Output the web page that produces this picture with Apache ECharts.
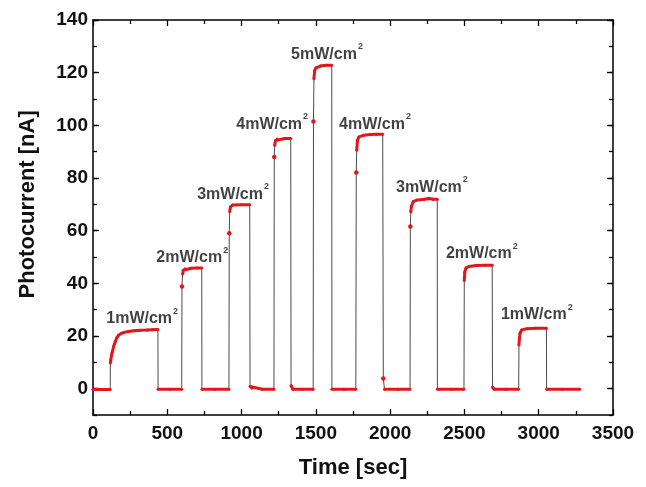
<!DOCTYPE html>
<html><head><meta charset="utf-8">
<script src="https://cdn.jsdelivr.net/npm/echarts@6/dist/echarts.min.js"></script>
<style>html,body{margin:0;padding:0;background:#fff}#c{width:646px;height:487px}</style>
</head><body><div id="c"></div>
<script>
// [time (sec), photocurrent (nA)]
const photocurrentTrace = [
  [0,-0.3],[40,-0.3],[80,-0.3],[116,-0.3],
  [117,9.7],[120,11.0],[124,12.5],[128,13.5],[139,16.0],[150,17.9],[161,19.4],[172,20.3],[190,21.0],[206,21.3],[240,21.7],[273,22.0],[320,22.2],[363,22.3],[400,22.4],[437,22.5],
  [438,-0.2],[520,-0.2],[597,-0.2],
  [599,38.8],[603,43.5],[608,45.0],[620,45.5],[660,45.7],[700,45.8],[732,45.8],
  [733,-0.2],[820,-0.2],[915,-0.2],
  [917,59.0],[920,67.2],[925,69.0],[940,69.7],[1000,69.8],[1055,69.8],
  [1057,0.8],[1070,0.2],[1140,-0.2],[1218,-0.2],
  [1220,88.0],[1223,92.4],[1228,94.2],[1240,94.8],[1290,95.0],[1331,95.0],
  [1333,1.2],[1345,-0.2],[1410,-0.2],[1482,-0.2],
  [1484,101.5],[1487,117.7],[1492,120.8],[1500,121.8],[1530,122.5],[1570,122.8],[1607,122.8],
  [1608,-0.2],[1690,-0.2],[1769,-0.2],
  [1772,82.1],[1775,90.5],[1780,94.3],[1790,95.6],[1820,96.2],[1870,96.5],[1910,96.6],[1950,96.6],
  [1954,3.9],[1962,-0.2],[2050,-0.2],[2134,-0.2],
  [2136,61.6],[2139,67.1],[2143,69.2],[2155,71.0],[2180,71.6],[2230,71.9],[2260,72.2],[2290,71.9],[2317,71.9],
  [2318,-0.2],[2410,-0.2],[2497,-0.2],
  [2499,41.1],[2502,44.2],[2510,45.8],[2530,46.4],[2580,46.8],[2640,46.9],[2687,46.9],
  [2689,0.6],[2700,-0.2],[2780,-0.2],[2865,-0.2],
  [2867,16.6],[2870,18.9],[2874,21.0],[2885,22.3],[2920,22.8],[2980,22.9],[3052,22.9],
  [3053,-0.2],[3160,-0.2],[3276,-0.2]
];
const labelTimes = [331, 668, 943, 1206, 1575, 1898, 2281, 2617, 2987];
const labelCurrents = [27.3, 50.4, 74.6, 101.1, 127.7, 101.1, 77.3, 51.9, 28.8];
const labelPowers = [1, 2, 3, 4, 5, 4, 3, 2, 1];

const FONT = 'Liberation Sans';
const RED = '#e3161c';

// split the trace into runs (red marker runs break at the switching jumps)
const runs = [];
let cur = [photocurrentTrace[0]];
for (let i = 1; i < photocurrentTrace.length; i++) {
  const p = photocurrentTrace[i], q = photocurrentTrace[i - 1];
  if (Math.abs(p[1] - q[1]) > 4) { runs.push(cur); cur = [p]; } else cur.push(p);
}
runs.push(cur);

const lineBlack = { color: '#000', width: 1.5 };
const tickBlack = { color: '#000', width: 1.3 };

const series = [{
  type: 'line', xAxisIndex: 0, yAxisIndex: 0, data: photocurrentTrace,
  symbol: 'none', lineStyle: { color: '#4a4a4a', width: 1 }, z: 2
}];
runs.forEach(r => series.push({
  type: 'line', xAxisIndex: 0, yAxisIndex: 0, data: r,
  symbol: 'circle', symbolSize: r.length === 1 ? 4.5 : 3, showSymbol: true, showAllSymbol: true,
  itemStyle: { color: RED }, lineStyle: { color: RED, width: 3 }, z: 3
}));
series.push({
  type: 'scatter', xAxisIndex: 0, yAxisIndex: 0,
  data: labelTimes.map((t, i) => [t, labelCurrents[i], labelPowers[i]]),
  symbolSize: 0, itemStyle: { color: 'rgba(0,0,0,0)' }, z: 4,
  label: {
    show: true, position: 'inside', color: '#111',
    formatter: p => '{m|' + p.data[2] + 'mW/cm}{s|2}',
    rich: {
      m: { fontSize: 16, fontWeight: 'bold', fontFamily: FONT, color: '#111', lineHeight: 20, verticalAlign: 'bottom' },
      s: { fontSize: 9, fontWeight: 'bold', fontFamily: FONT, color: '#111', lineHeight: 20, verticalAlign: 'top', padding: [0, 0, 0, 1] }
    }
  }
});

const plainNum = v => String(v);

const chart = echarts.init(document.getElementById('c'), null, { renderer: 'canvas' });
chart.setOption({
  animation: false,
  backgroundColor: '#fff',
  grid: [
    { left: 93, right: 33, top: 20, bottom: 72 },
    { left: 93, right: 33, top: 20, bottom: 98.33 }
  ],
  xAxis: [
    {
      gridIndex: 0, type: 'value', min: 0, max: 3500, interval: 500, position: 'bottom',
      axisLine: { show: true, onZero: false, lineStyle: lineBlack },
      axisTick: { show: true, inside: true, length: 6, lineStyle: tickBlack },
      minorTick: { show: true, splitNumber: 2, length: 4, lineStyle: tickBlack },
      splitLine: { show: false }, minorSplitLine: { show: false },
      axisLabel: { fontSize: 19, fontWeight: 'bold', fontFamily: FONT, color: '#111', margin: 9, formatter: plainNum },
      name: 'Time [sec]', nameLocation: 'middle', nameGap: 42,
      nameTextStyle: { fontSize: 22, fontWeight: 'bold', fontFamily: FONT, color: '#111' }
    },
    {
      gridIndex: 0, type: 'value', min: 0, max: 3500, interval: 500, position: 'top',
      axisLine: { show: true, onZero: false, lineStyle: lineBlack },
      axisTick: { show: true, inside: true, length: 6, lineStyle: tickBlack },
      minorTick: { show: true, splitNumber: 2, length: 4, lineStyle: tickBlack },
      splitLine: { show: false }, axisLabel: { show: false }
    },
    { gridIndex: 1, type: 'value', min: 0, max: 3500, show: false }
  ],
  yAxis: [
    {
      gridIndex: 0, type: 'value', min: -10, max: 140, interval: 10, position: 'left',
      axisLine: { show: true, onZero: false, lineStyle: lineBlack },
      axisTick: { show: true, inside: true, length: 4, lineStyle: tickBlack },
      splitLine: { show: false }, axisLabel: { show: false }
    },
    {
      gridIndex: 0, type: 'value', min: -10, max: 140, interval: 10, position: 'right',
      axisLine: { show: true, onZero: false, lineStyle: lineBlack },
      axisTick: { show: true, inside: true, length: 4, lineStyle: tickBlack },
      splitLine: { show: false }, axisLabel: { show: false }
    },
    {
      gridIndex: 1, type: 'value', min: 0, max: 140, interval: 20, position: 'left',
      axisLine: { show: false, onZero: false },
      axisTick: { show: true, inside: true, length: 6, lineStyle: tickBlack },
      splitLine: { show: false },
      axisLabel: { fontSize: 19, fontWeight: 'bold', fontFamily: FONT, color: '#111', margin: 5, formatter: plainNum },
      name: 'Photocurrent [nA]', nameLocation: 'middle', nameGap: 54,
      nameTextStyle: { fontSize: 22, fontWeight: 'bold', fontFamily: FONT, color: '#111' }
    },
    {
      gridIndex: 1, type: 'value', min: 0, max: 140, interval: 20, position: 'right',
      axisLine: { show: false, onZero: false },
      axisTick: { show: true, inside: true, length: 6, lineStyle: tickBlack },
      splitLine: { show: false }, axisLabel: { show: false }
    }
  ],
  series: series
});
</script>
</body></html>
